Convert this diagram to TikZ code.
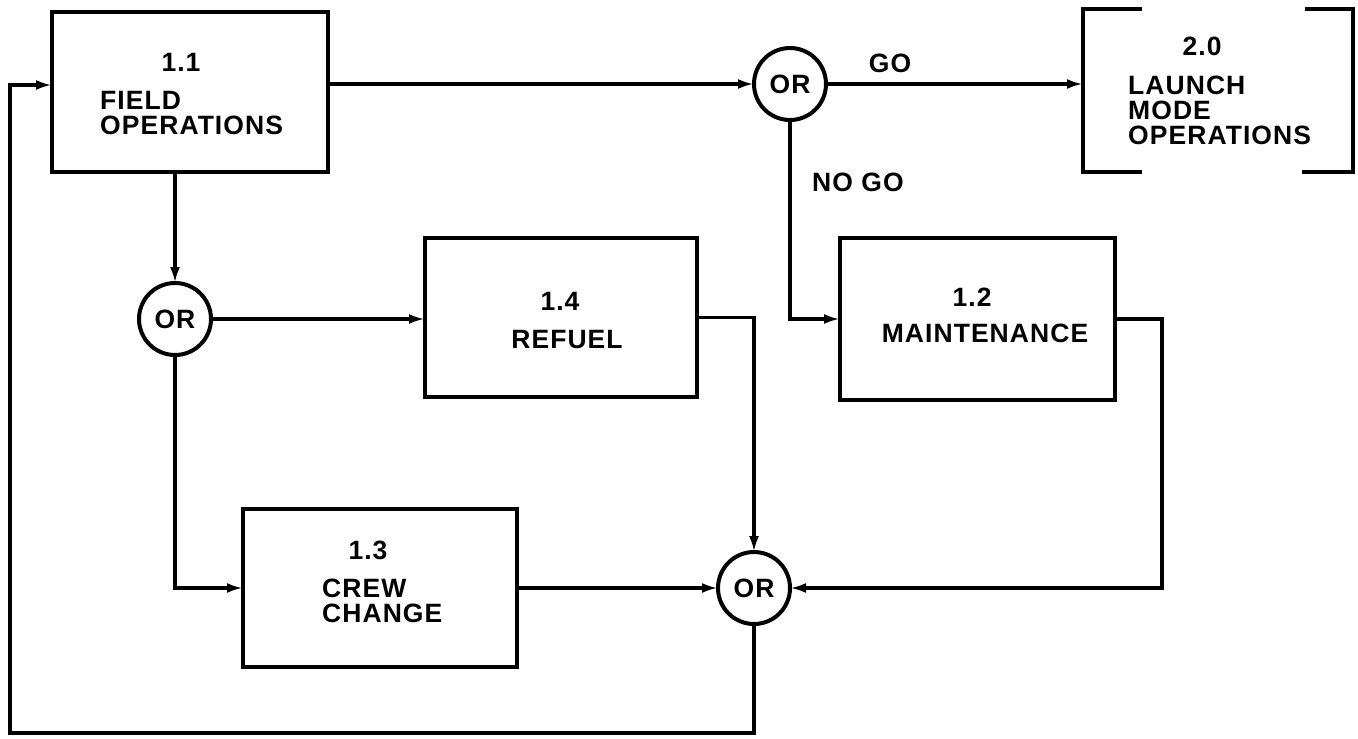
\documentclass[tikz,border=0pt]{standalone}
\usepackage{fontspec}
\setmainfont{Liberation Sans}[LetterSpace=4]
\usetikzlibrary{arrows.meta}
\begin{document}
\begin{tikzpicture}[x=1pt,y=-1pt,
  dfont/.style={font=\bfseries\fontsize{26.5}{25}\selectfont},
  box/.style={draw,rectangle,line width=4.6pt,inner sep=0pt,outer sep=0pt},
  orc/.style={draw,circle,line width=4pt,minimum size=72pt,inner sep=0pt,outer sep=0pt,dfont},
  txt/.style={inner sep=0pt,dfont},
  ltxt/.style={inner sep=0pt,dfont,anchor=west},
  arr/.style={line width=3.8pt,-{Latex[length=16pt,width=10pt]}}]
\useasboundingbox (0,0) rectangle (1358,739);
% boxes
\node[box,minimum width=276pt,minimum height=160pt] (b11) at (190,92) {};
\node[box,minimum width=272pt,minimum height=159pt] (b14) at (561,317.5) {};
\node[box,minimum width=275pt,minimum height=162pt] (b12) at (977.5,319) {};
\node[box,minimum width=274pt,minimum height=158pt] (b13) at (380,588) {};
\node[inner sep=0pt,outer sep=0pt,minimum width=270pt,minimum height=163pt] (b20) at (1218,90.5) {};
\draw[line width=4.6pt] ([xshift=59pt]b20.north west) -- (b20.north west) -- (b20.south west) -- ([xshift=59pt]b20.south west);
\draw[line width=4.6pt] ([xshift=-48pt]b20.north east) -- (b20.north east) -- (b20.south east) -- ([xshift=-51pt]b20.south east);
% OR gates
\node[orc] (orT) at (790,84) {OR};
\node[orc] (or1) at (175,319) {OR};
\node[orc] (or3) at (754,588) {OR};
% texts
\node[txt] (t11n) at (181,62) {1.1};
\node[ltxt] (t11a) at (100,100) {FIELD};
\node[ltxt] (t11b) at (100,125) {OPERATIONS};
\node[txt] (t14n) at (560,301) {1.4};
\node[txt] (t14t) at (567,340) {REFUEL};
\node[txt] (t12n) at (972,297) {1.2};
\node[txt] (t12t) at (985,333) {MAINTENANCE};
\node[txt] (t13n) at (368,550) {1.3};
\node[ltxt] (t13a) at (322,588) {CREW};
\node[ltxt] (t13b) at (322,613) {CHANGE};
\node[txt] (t20n) at (1202,46) {2.0};
\node[ltxt] (t20a) at (1128,85) {LAUNCH};
\node[ltxt] (t20b) at (1128,110) {MODE};
\node[ltxt] (t20c) at (1128,135) {OPERATIONS};
\node[txt] (go) at (890,63) {GO};
\node[txt] (nogo) at (858,182) {NO GO};
% connectors
\coordinate (c12) at (1162,319);
\coordinate (fb1) at (10,733);
\coordinate (fb2) at (10,85);
\draw[arr] (b11.east |- orT.west) -- (orT.west);
\draw[arr] (orT.east) -- (b20.west |- orT.east);
\draw[arr] (orT.south) |- (b12.west);
\draw[arr] (b11.south -| or1.north) -- (or1.north);
\draw[arr] (or1.east) -- (b14.west |- or1.east);
\draw[arr] (or1.south) |- (b13.west);
\draw[arr] (b13.east) -- (or3.west);
\draw[arr] (b14.east) -| (or3.north);
\draw[arr] (b12.east) -- (c12) |- (or3.east);
\draw[arr] (or3.south) |- (fb1) -- (fb2) -- (b11.west |- fb2);
\end{tikzpicture}
\end{document}
